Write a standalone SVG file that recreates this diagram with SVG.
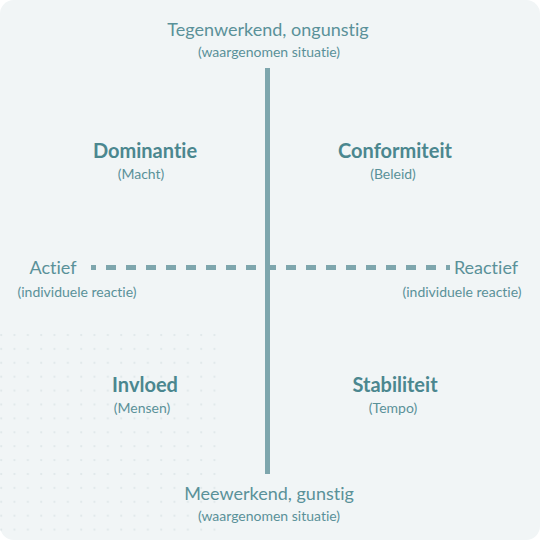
<svg xmlns="http://www.w3.org/2000/svg" width="540" height="540" viewBox="0 0 540 540">
  <style>
    text { font-family: Lato, "Liberation Sans", sans-serif; text-anchor: middle; font-variant-ligatures: none; font-feature-settings: "liga" 0; }
    .main { font-size: 18px; fill: #5a9199; }
    .sub { font-size: 14px; fill: #5a9199; }
    .head { font-size: 20px; font-weight: bold; fill: #4b878f; }
    .axis { stroke: #7ea6ad; stroke-width: 5; fill: none; }
  </style>
  <defs>
    <pattern id="dots" x="0" y="328" width="13.333" height="13.9" patternUnits="userSpaceOnUse">
      <circle cx="1.2" cy="7" r="1.1" fill="#dfe7e9"/>
    </pattern>
  </defs>
  <rect x="0" y="0" width="540" height="540" rx="14" ry="14" fill="#f1f5f6"/>
  <rect x="0" y="328" width="218" height="206" fill="url(#dots)"/>

  <g id="connectors">
    <line class="axis" x1="91" y1="267.5" x2="450" y2="267.5" stroke-dasharray="10 10" stroke-dashoffset="5"/>
    <line class="axis" x1="267.5" y1="68" x2="267.5" y2="474"/>
  </g>

  <g id="top">
    <text class="main" x="268" y="36">Tegenwerkend, ongunstig</text>
    <text class="sub" x="269" y="57">(waargenomen situatie)</text>
  </g>
  <g id="bottom">
    <text class="main" x="269" y="500">Meewerkend, gunstig</text>
    <text class="sub" x="269" y="521">(waargenomen situatie)</text>
  </g>
  <g id="left">
    <text class="main" x="53" y="274">Actief</text>
    <text class="sub" x="77" y="297">(individuele reactie)</text>
  </g>
  <g id="right">
    <text class="main" x="486" y="274">Reactief</text>
    <text class="sub" x="462" y="297">(individuele reactie)</text>
  </g>
  <g id="dominantie">
    <text class="head" x="145" y="158">Dominantie</text>
    <text class="sub" x="141" y="179">(Macht)</text>
  </g>
  <g id="conformiteit">
    <text class="head" x="395" y="158">Conformiteit</text>
    <text class="sub" x="393" y="179">(Beleid)</text>
  </g>
  <g id="invloed">
    <text class="head" x="145" y="392">Invloed</text>
    <text class="sub" x="142" y="413">(Mensen)</text>
  </g>
  <g id="stabiliteit">
    <text class="head" x="395" y="392">Stabiliteit</text>
    <text class="sub" x="393" y="413">(Tempo)</text>
  </g>
</svg>
